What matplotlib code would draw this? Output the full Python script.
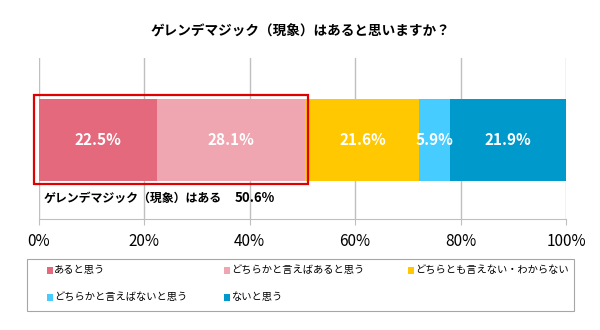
import matplotlib
matplotlib.use("Agg")
import matplotlib.pyplot as plt
from matplotlib.patches import Rectangle

plt.rcParams['font.family'] = ['Noto Sans CJK JP', 'DejaVu Sans']

title = "ゲレンデマジック（現象）はあると思いますか？"
categories = ["あると思う", "どちらかと言えばあると思う", "どちらとも言えない・わからない",
              "どちらかと言えばないと思う", "ないと思う"]
values = [22.5, 28.1, 21.6, 5.9, 21.9]
colors = ["#E5697D", "#F0A6B1", "#FFC800", "#47CCFF", "#0099CC"]
ticks = [0, 20, 40, 60, 80, 100]
tick_labels = ["0%", "20%", "40%", "60%", "80%", "100%"]

W, H = 600, 330
fig = plt.figure(figsize=(W / 100, H / 100), dpi=100)
ax = fig.add_axes([38.5 / W, 1 - 219 / H, 527.5 / W, 161 / H])
ax.set_xlim(0, 100)
ax.set_ylim(0, 1)

# stacked horizontal bar
left = 0
for v, c in zip(values, colors):
    ax.barh(0.4935, v, left=left, height=0.509, color=c, zorder=2)
    ax.text(left + v / 2, 0.4935, f"{v}%", ha='center', va='center',
            color='white', fontsize=11, fontweight='bold', zorder=3)
    left += v

# grid and axis
ax.set_xticks(ticks)
ax.set_xticklabels(tick_labels, fontsize=11)
ax.set_yticks([])
ax.grid(axis='x', color='#BFBFBF', linewidth=1, zorder=0)
for s in ['top', 'right', 'left']:
    ax.spines[s].set_visible(False)
ax.spines['bottom'].set_color('#BFBFBF')
ax.tick_params(axis='x', length=4, color='#BFBFBF', pad=6)

# highlight the "yes" group
yes_total = round(values[0] + values[1], 1)
ax.add_patch(Rectangle((-0.85, 0.217), 51.95, 0.553, fill=False,
                       edgecolor='#E00000', linewidth=1.6, clip_on=False, zorder=4))
ax.text(0.9, 0.13, "ゲレンデマジック（現象）はある", ha='left', va='center',
        fontsize=8.6, fontweight='bold', color='black')
ax.text(37.1, 0.13, f"{yes_total}%", ha='left', va='center',
        fontsize=9.5, fontweight='bold', color='black')

fig.text(0.5, 1 - 32 / H, title, ha='center', va='center',
         fontsize=9.8, fontweight='bold')

# legend box, filled row by row
fig.add_artist(Rectangle((27 / W, 1 - 311 / H), 547 / W, 52 / H, transform=fig.transFigure,
                         fill=False, edgecolor='#A6A6A6', linewidth=0.8))
col_x = [47, 224, 408]
row_y = [270, 297]
for i, (label, c) in enumerate(zip(categories, colors)):
    x = col_x[i % 3]
    y = row_y[i // 3]
    fig.add_artist(Rectangle((x / W, 1 - (y + 3.5) / H), 6 / W, 7 / H,
                             transform=fig.transFigure, facecolor=c, edgecolor='none'))
    fig.text((x + 7) / W, 1 - y / H, label, ha='left', va='center', fontsize=7.4)

fig.savefig("out.png", dpi=100)
